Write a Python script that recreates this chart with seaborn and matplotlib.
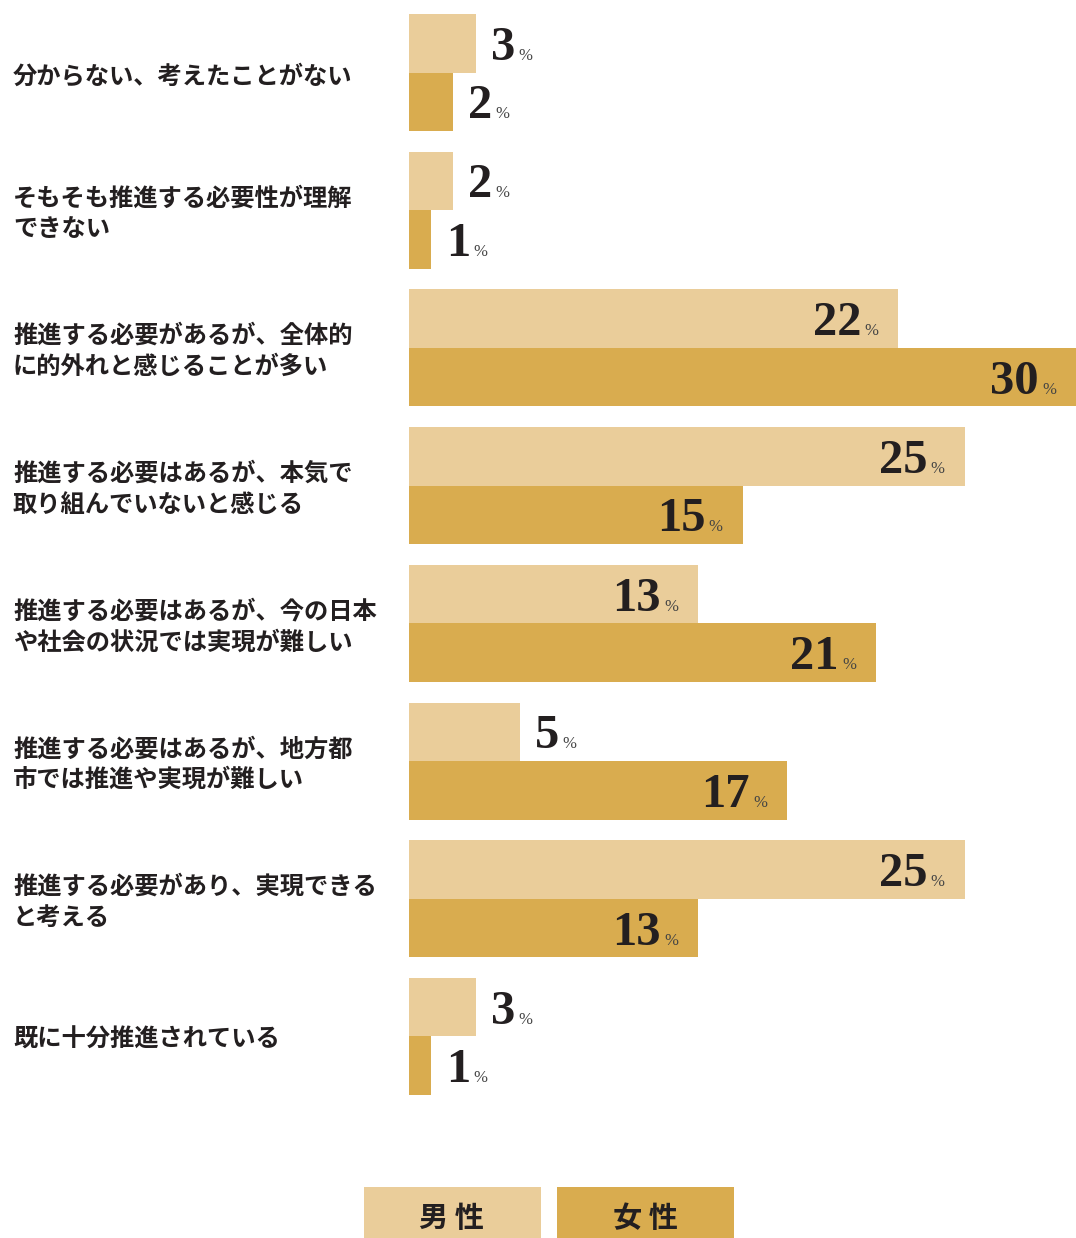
import matplotlib
matplotlib.use("Agg")
import matplotlib.pyplot as plt
from matplotlib.patches import Rectangle
from matplotlib.transforms import offset_copy
import seaborn as sns
import pandas as pd

# Survey answers (one entry per row, top to bottom)
categories = [
    "分からない、考えたことがない",
    "そもそも推進する必要性が理解\nできない",
    "推進する必要があるが、全体的\nに的外れと感じることが多い",
    "推進する必要はあるが、本気で\n取り組んでいないと感じる",
    "推進する必要はあるが、今の日本\nや社会の状況では実現が難しい",
    "推進する必要はあるが、地方都\n市では推進や実現が難しい",
    "推進する必要があり、実現できる\nと考える",
    "既に十分推進されている",
]
groups = ["男性", "女性"]
legend_labels = ["男 性", "女 性"]
male = [3, 2, 22, 25, 13, 5, 25, 3]
female = [2, 1, 30, 15, 21, 17, 13, 1]

colors = ["#EACD9A", "#D9AC4F"]
text_color = "#231F20"

sns.set_theme(style="white")
plt.rcParams["font.family"] = ["Noto Sans CJK JP", "DejaVu Sans"]

W, H = 1076, 1238
fig = plt.figure(figsize=(W / 100, H / 100), dpi=100)
ax = fig.add_axes([409 / W, 1 - 1110 / H, 1 - 409 / W, 1110 / H])

df = pd.DataFrame({
    "category": categories * 2,
    "gender": [groups[0]] * len(male) + [groups[1]] * len(female),
    "value": male + female,
})

sns.barplot(
    data=df, x="value", y="category", hue="gender",
    order=categories, hue_order=groups, palette=colors,
    orient="h", width=0.85, saturation=1, linewidth=0,
    legend=False, ax=ax,
)

ax.set_xlim(0, 30)
ax.set_ylim(7.534, -0.5265)
ax.set_axis_off()

# Category labels on the left
label_tr = offset_copy(ax.get_yaxis_transform(), fig=fig, x=0, y=-3.5, units="dots")
for i, cat in enumerate(categories):
    ax.text(-0.5937, i, cat, transform=label_tr,
            ha="left", va="center", fontsize=17.5, fontweight="bold",
            color=text_color, linespacing=1.36)

# Value labels: big serif number followed by a small "%"
num_font = dict(family="Liberation Serif", weight="bold", size=35)
pct_font = dict(family="Liberation Serif", weight="normal", size=12)
renderer = fig.canvas.get_renderer()


def text_width(s, font):
    t = fig.text(0, 0, s, fontdict=font)
    w = t.get_window_extent(renderer).width
    t.remove()
    return w


pct_w = text_width("%", pct_font)
base_dy = -16.5
for cont, vals in zip(ax.containers, [male, female]):
    for bar, v in zip(cont, vals):
        x1 = bar.get_x() + bar.get_width()
        yc = bar.get_y() + bar.get_height() / 2
        s = str(v)
        if v > 6:
            tr_p = offset_copy(ax.transData, fig=fig, x=-20, y=base_dy, units="dots")
            ax.text(x1, yc, "%", transform=tr_p, ha="right", va="baseline",
                    color="#444444", fontdict=pct_font)
            tr_n = offset_copy(ax.transData, fig=fig, x=-20 - pct_w - 3,
                               y=base_dy, units="dots")
            ax.text(x1, yc, s, transform=tr_n, ha="right", va="baseline",
                    color=text_color, fontdict=num_font)
        else:
            nw = text_width(s, num_font)
            tr_n = offset_copy(ax.transData, fig=fig, x=15, y=base_dy, units="dots")
            ax.text(x1, yc, s, transform=tr_n, ha="left", va="baseline",
                    color=text_color, fontdict=num_font)
            tr_p = offset_copy(ax.transData, fig=fig, x=15 + nw + 3,
                               y=base_dy, units="dots")
            ax.text(x1, yc, "%", transform=tr_p, ha="left", va="baseline",
                    color="#444444", fontdict=pct_font)

# Legend boxes at the bottom
for (x0, xc), c, lab in zip([(364, 451), (557, 645)], colors, legend_labels):
    fig.patches.append(Rectangle((x0 / W, 0), 177 / W, 51 / H,
                                 transform=fig.transFigure, color=c, lw=0))
    fig.text(xc / W, 1 - 1218 / H, lab, ha="center", va="center",
             fontsize=21, fontweight="bold", color=text_color)

fig.savefig("out.png", dpi=100, facecolor="white")
